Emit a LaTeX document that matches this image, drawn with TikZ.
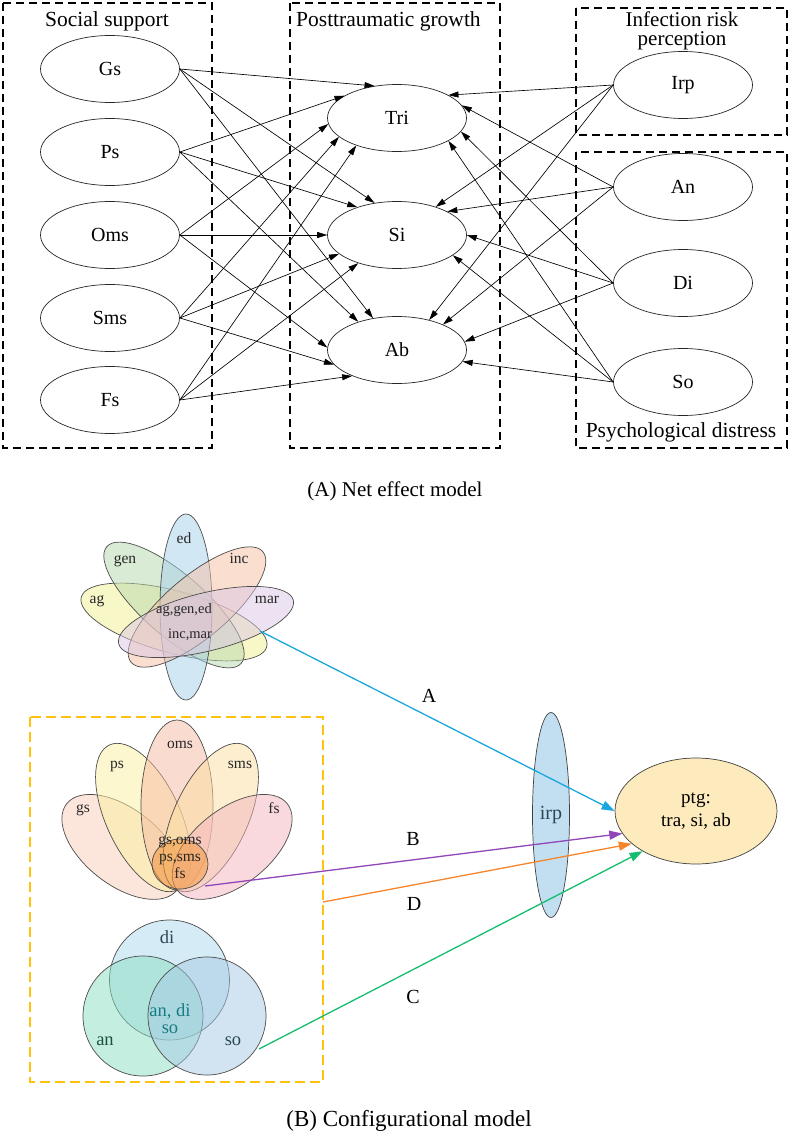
\documentclass[tikz,border=0pt]{standalone}
\usepackage{fontspec}
\setmainfont{Liberation Serif}
\usetikzlibrary{arrows.meta,shapes.geometric}
\definecolor{lineA}{HTML}{1AA7DF}
\definecolor{lineB}{HTML}{9146B8}
\definecolor{lineC}{HTML}{14BE6E}
\definecolor{lineD}{HTML}{F5862E}
\definecolor{boxY}{HTML}{FFC20E}
\definecolor{cAg}{HTML}{F3F191}
\definecolor{cGen}{HTML}{B7D9AD}
\definecolor{cEd}{HTML}{A5D1EB}
\definecolor{cInc}{HTML}{F7C1A5}
\definecolor{cMar}{HTML}{DBC7E5}
\definecolor{cGs}{HTML}{FBCDB9}
\definecolor{cPs}{HTML}{FBF19F}
\definecolor{cOms}{HTML}{F7B9A1}
\definecolor{cSms}{HTML}{FBDFA1}
\definecolor{cFs}{HTML}{F5B5BF}
\definecolor{cCore}{HTML}{F39A3E}
\definecolor{cDi}{HTML}{ADD9ED}
\definecolor{cAn}{HTML}{8BDFC1}
\definecolor{cSo}{HTML}{A7CBE5}
\definecolor{cIrp}{HTML}{C2DFF1}
\definecolor{cPtg}{HTML}{FDEBBE}
\definecolor{txtDark}{HTML}{2B4656}
\definecolor{txtGreen}{HTML}{1D5040}
\definecolor{txtCore}{HTML}{177C80}
\begin{document}
\begin{tikzpicture}[x=1pt,y=1pt,
  var/.style={draw=black!85, line width=0.7pt, ellipse, minimum width=139pt, minimum height=67pt, inner sep=0pt, font=\fontsize{20}{22}\selectfont},
  grp/.style={draw=black, line width=1.8pt, dash pattern=on 8pt off 5pt},
  eff/.style={-{Triangle[length=10pt,width=6pt]}, line width=0.65pt, black},
  ttl/.style={font=\fontsize{21.5}{24}\selectfont, inner sep=0pt},
  petal/.style={draw=black!70, line width=0.7pt, fill opacity=0.5},
  plab/.style={font=\fontsize{15.5}{17}\selectfont, inner sep=0pt, text=black!85},
  vlab/.style={font=\fontsize{18.5}{20}\selectfont, inner sep=0pt},
  clab/.style={font=\fontsize{20}{22}\selectfont, inner sep=0pt},
  cline/.style={line width=1.3pt, -{Triangle[length=13pt,width=9pt]}},
]
\fill[white] (0,0) rectangle (790,-1134);
\useasboundingbox (0,0) rectangle (790,-1134);

% ---------- (A) Net effect model ----------
\draw[grp] (3,-3) rectangle (212,-448);
\draw[grp] (290,-3) rectangle (500,-448);
\draw[grp] (576,-8) rectangle (787,-135);
\draw[grp] (576,-152) rectangle (787,-448);

\node[ttl, anchor=base] (tSoc) at (107,-27) {Social support};
\node[ttl, anchor=base west] (tPtg) at (296,-27) {Posttraumatic growth};
\node[ttl, anchor=north, align=center, font=\fontsize{21}{18.5}\selectfont] (tIrp) at (682,-12) {Infection risk\\perception};
\node[ttl, anchor=base] (tPd) at (681,-437) {Psychological distress};

\node[var] (Gs)  at (110,-69)  {Gs};
\node[var] (Ps)  at (110,-152) {Ps};
\node[var] (Oms) at (110,-235) {Oms};
\node[var] (Sms) at (110,-318) {Sms};
\node[var] (Fs)  at (110,-400) {Fs};

\node[var] (Tri) at (397,-118) {Tri};
\node[var] (Si)  at (397,-235) {Si};
\node[var] (Ab)  at (397,-350) {Ab};

\node[var] (Irp) at (683,-85)  {Irp};
\node[var] (An)  at (683,-187) {An};
\node[var] (Di)  at (683,-283) {Di};
\node[var] (So)  at (683,-382) {So};

\foreach \s/\t/\a in {Gs/Tri/125, Gs/Si/125, Gs/Ab/127,
                      Ps/Tri/157, Ps/Si/145, Ps/Ab/144,
                      Oms/Tri/185, Oms/Si/180, Oms/Ab/178,
                      Sms/Tri/198, Sms/Si/198, Sms/Ab/193,
                      Fs/Tri/214, Fs/Si/216, Fs/Ab/210}
  \draw[eff] (\s.east) -- (\t.\a);

\foreach \s/\t/\a in {Irp/Tri/24, Irp/Si/36, Irp/Ab/43,
                      An/Tri/11, An/Si/25, An/Ab/29,
                      Di/Tri/348, Di/Si/0, Di/Ab/7,
                      So/Tri/336, So/Si/340, So/Ab/350}
  \draw[eff] (\s.west) -- (\t.\a);

\node[ttl, anchor=base, font=\fontsize{21}{24}\selectfont] (capA) at (395,-496) {(A) Net effect model};

% ---------- (B) Configurational model ----------
% demographic flower
\draw[petal, fill=cAg,  rotate around={-15:(174,-622)}] (174,-622) ellipse [x radius=96, y radius=31];
\draw[petal, fill=cGen, rotate around={-41:(174,-605)}] (174,-605) ellipse [x radius=89, y radius=31];
\draw[petal, fill=cEd] (186,-607) ellipse [x radius=26, y radius=93];
\draw[petal, fill=cInc, rotate around={40:(197,-607)}] (197,-607) ellipse [x radius=86, y radius=31];
\draw[petal, fill=cMar, rotate around={14:(206,-622)}] (206,-622) ellipse [x radius=90, y radius=29];

\node[plab, anchor=base] (lEd)  at (184,-543) {ed};
\node[plab, anchor=base] (lGen) at (125,-563) {gen};
\node[plab, anchor=base] (lInc) at (239,-563) {inc};
\node[plab, anchor=base] (lAg)  at (97,-603)  {ag};
\node[plab, anchor=base] (lMar) at (267,-603) {mar};
\node[plab, anchor=base, font=\fontsize{14.5}{16}\selectfont] (lDem1) at (184,-613) {ag,gen,ed};
\node[plab, anchor=base, font=\fontsize{14.5}{16}\selectfont] (lDem2) at (190,-638) {inc,mar};

% yellow dashed group box
\draw[boxY, line width=1.6pt, dash pattern=on 10pt off 5pt] (30,-717) rectangle (323,-1082);

% social support flower
\draw[petal, fill=cGs,  rotate around={142:(121.8,-846.9)}] (121.8,-846.9) ellipse [x radius=70, y radius=38];
\draw[petal, fill=cPs,  rotate around={115:(143.2,-817.5)}] (143.2,-817.5) ellipse [x radius=80, y radius=37];
\draw[petal, fill=cOms] (177,-805) ellipse [x radius=36, y radius=85];
\draw[petal, fill=cSms, rotate around={65:(210.8,-817.5)}] (210.8,-817.5) ellipse [x radius=80, y radius=37];
\draw[petal, fill=cFs,  rotate around={38:(232.2,-846.9)}] (232.2,-846.9) ellipse [x radius=70, y radius=38];
\draw[petal, fill=cCore, fill opacity=0.55] (180,-864) ellipse [x radius=28, y radius=25];

\node[plab, anchor=base] (lOms) at (180,-748) {oms};
\node[plab, anchor=base] (lPs)  at (117,-768) {ps};
\node[plab, anchor=base] (lSms) at (240,-768) {sms};
\node[plab, anchor=base] (lGs)  at (83,-812)  {gs};
\node[plab, anchor=base] (lFs)  at (274,-813) {fs};
\node[plab, anchor=north, align=center, font=\fontsize{15.5}{17}\selectfont] (lSoc) at (180,-836.5) {gs,oms\\ps,sms\\fs};

% distress venn
\draw[petal, fill=cDi] (169.5,-980) circle [radius=60];
\draw[petal, fill=cAn] (143,-1016) circle [radius=60];
\draw[petal, fill=cSo] (207,-1016) circle [radius=59];

\node[vlab, anchor=base, text=txtDark]  (lDi) at (167,-943)  {di};
\node[vlab, anchor=base, text=txtGreen] (lAn) at (105,-1045) {an};
\node[vlab, anchor=base, text=txtDark]  (lSo) at (233,-1045) {so};
\node[vlab, anchor=north, align=center, text=txtCore, font=\fontsize{18.5}{17}\selectfont] (lDis) at (170,-1003.5) {an, di\\so};

% irp and ptg
\node[ellipse, draw=black!75, line width=0.7pt, fill=cIrp, minimum width=37pt, minimum height=205pt, inner sep=0pt,
      font=\fontsize{20}{22}\selectfont, text=txtDark] (irp) at (551,-815) {irp};
\node[ellipse, draw=black!75, line width=0.7pt, fill=cPtg, minimum width=162pt, minimum height=106pt, inner sep=0pt,
      align=center, font=\fontsize{19}{23}\selectfont] (ptg) at (696,-811) {ptg:\\tra, si, ab};

\coordinate (aStart) at (260,-631);
\coordinate (bStart) at (205,-886);
\coordinate (dStart) at (323,-902);
\coordinate (cStart) at (259,-1049);

\draw[cline, lineA] (aStart) -- (ptg.180);
\draw[cline, lineB] (bStart) -- (ptg.197);
\draw[cline, lineD] (dStart) -- (ptg.207);
\draw[cline, lineC] (cStart) -- (ptg.217);

\node[clab, anchor=base] (labA) at (429,-702)  {A};
\node[clab, anchor=base] (labB) at (413,-845)  {B};
\node[clab, anchor=base] (labD) at (414,-910)  {D};
\node[clab, anchor=base] (labC) at (413,-1003) {C};

\node[ttl, anchor=base, font=\fontsize{23}{26}\selectfont] (capB) at (409,-1126) {(B) Configurational model};
\end{tikzpicture}
\end{document}
